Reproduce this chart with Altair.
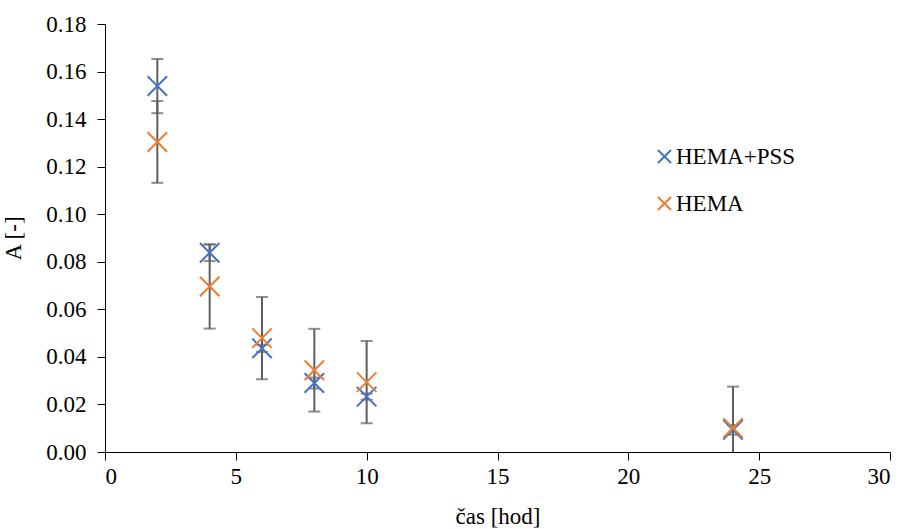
import altair as alt
import pandas as pd

# Measured absorbance over time for two hydrogel types (mean ± SD)
times = [2, 4, 6, 8, 10, 24]
series_names = ["HEMA+PSS", "HEMA"]
a_pss = [0.1539, 0.0838, 0.0436, 0.0290, 0.0233, 0.0093]
a_pss_err = [0.0114, 0.0035, 0.0015, 0.0023, 0.0013, 0.0020]
a_hema = [0.1304, 0.0696, 0.0479, 0.0344, 0.0294, 0.0101]
a_hema_err = [0.0172, 0.0177, 0.0173, 0.0174, 0.0173, 0.0174]

x_ticks = [0, 5, 10, 15, 20, 25, 30]
y_ticks = [0.00, 0.02, 0.04, 0.06, 0.08, 0.10, 0.12, 0.14, 0.16, 0.18]

rows = []
for name, vals, errs in [(series_names[0], a_pss, a_pss_err),
                         (series_names[1], a_hema, a_hema_err)]:
    for t, v, e in zip(times, vals, errs):
        rows.append({"serie": name, "cas": t, "A": v, "lo": v - e, "hi": v + e})
df = pd.DataFrame(rows)

FONT = "Liberation Serif"
FS = 23
X_SHAPE = "M-1,-1L1,1M-1,1L1,-1"
BAR_COLOR = "#5f5f5f"

x_enc = alt.X("cas:Q", scale=alt.Scale(domain=[0, 30], nice=False),
              axis=alt.Axis(values=x_ticks, title="čas [hod]", titleY=53))
y_scale = alt.Scale(domain=[0, 0.18], nice=False)
y_axis = alt.Axis(values=y_ticks, format=".2f", title="A [-]", titleX=-80)

base = alt.Chart(df)

bars = base.mark_rule(color=BAR_COLOR, strokeWidth=2, clip=True).encode(
    x=x_enc, y=alt.Y("lo:Q", scale=y_scale, axis=y_axis), y2="hi:Q"
)
caps_lo = base.mark_tick(color=BAR_COLOR, thickness=2, size=12,
                         orient="horizontal", clip=True).encode(
    x="cas:Q", y="lo:Q"
)
caps_hi = base.mark_tick(color=BAR_COLOR, thickness=2, size=12,
                         orient="horizontal", clip=True).encode(
    x="cas:Q", y="hi:Q"
)
points = base.mark_point(shape=X_SHAPE, filled=False, size=380,
                         strokeWidth=2, opacity=1).encode(
    x="cas:Q",
    y="A:Q",
    color=alt.Color(
        "serie:N",
        scale=alt.Scale(domain=series_names, range=["#4472C4", "#ED7D31"]),
        sort=series_names,
        legend=alt.Legend(
            title=None, orient="none", legendX=548, legendY=121,
            symbolType=X_SHAPE, symbolSize=170, symbolStrokeWidth=2,
            symbolFillColor="transparent",
            labelFont=FONT, labelFontSize=FS, labelColor="#000000",
            rowPadding=23, labelOffset=0,
        ),
    ),
    order=alt.Order("serie:N", sort="descending"),
)

chart = (
    alt.layer(bars, caps_lo, caps_hi, points)
    .properties(
        width=785, height=428,
        autosize=alt.AutoSizeParams(type="none"),
        padding={"left": 105, "top": 24, "right": 14, "bottom": 77},
        background="white",
    )
    .configure_view(stroke=None)
    .configure_axis(
        grid=False,
        domainColor="#000000", domainWidth=1,
        tickColor="#000000", tickSize=8, tickWidth=1,
        labelFont=FONT, labelFontSize=FS, labelColor="#000000",
        titleFont=FONT, titleFontSize=FS, titleColor="#000000",
        titleFontWeight="normal",
    )
    .configure_axisX(labelPadding=5)
    .configure_axisY(labelPadding=11)
)

chart.save("out.html", embed_options={"renderer": "svg", "actions": False})
